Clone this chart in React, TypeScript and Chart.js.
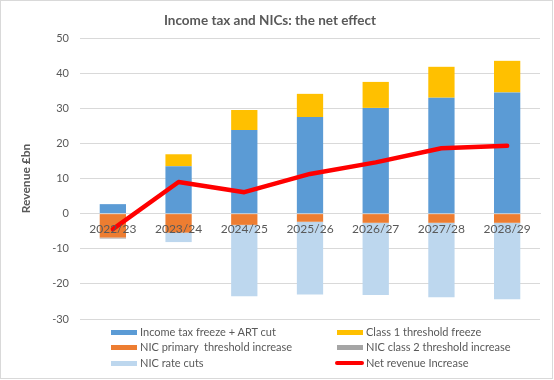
import React, { useEffect, useRef } from "react";
import { Chart, registerables } from "chart.js";

Chart.register(...registerables);

const categories = ["2022/23", "2023/24", "2024/25", "2025/26", "2026/27", "2027/28", "2028/29"];
const incomeTaxFreeze = [2.7, 13.5, 23.8, 27.5, 30.1, 33.0, 34.5];
const class1Freeze = [0, 3.4, 5.7, 6.6, 7.4, 8.8, 9.0];
const nicPrimary = [-6.8, -5.4, -3.2, -2.3, -2.6, -2.6, -2.6];
const nicClass2 = [-0.3, -0.1, -0.1, -0.1, -0.1, -0.1, -0.1];
const nicRateCuts = [0, -2.6, -20.2, -20.6, -20.5, -21.1, -21.7];
const netRevenue = [-4.4, 9.0, 6.1, 11.3, 14.6, 18.6, 19.3];

const seriesNames = [
  "Income tax freeze + ART cut",
  "Class 1 threshold freeze",
  "NIC primary  threshold increase",
  "NIC class 2 threshold increase",
  "NIC rate cuts",
  "Net revenue Increase",
];
const seriesColors = ["#5b9bd5", "#ffc000", "#ed7d31", "#a5a5a5", "#bdd7ee", "#ff0000"];

const FONT = "Lato, 'Liberation Sans', sans-serif";
const TEXT = "#595959";

export default function App() {
  const ref = useRef<HTMLCanvasElement>(null);

  useEffect(() => {
    const barData = [incomeTaxFreeze, class1Freeze, nicPrimary, nicClass2, nicRateCuts];
    const datasets: any[] = barData.map((d, i) => ({
      type: "bar",
      label: seriesNames[i],
      data: d,
      backgroundColor: seriesColors[i],
      borderWidth: 0,
      stack: "bars",
      order: 1,
      barPercentage: 0.4,
      categoryPercentage: 1,
    }));
    datasets.push({
      type: "line",
      label: seriesNames[5],
      data: netRevenue,
      borderColor: seriesColors[5],
      backgroundColor: seriesColors[5],
      borderWidth: 4.5,
      pointRadius: 0,
      tension: 0,
      borderCapStyle: "round",
      borderJoinStyle: "round",
      stack: "net",
      order: 0,
    });

    const chart = new Chart(ref.current!, {
      type: "bar",
      data: { labels: categories, datasets },
      options: {
        responsive: false,
        animation: false,
        layout: { padding: { left: 0, right: 14, top: 0, bottom: 61 } },
        plugins: {
          legend: { display: false },
          tooltip: { enabled: false },
          title: {
            display: true,
            text: "Income tax and NICs: the net effect",
            color: TEXT,
            font: { family: FONT, size: 13.5, weight: "bold" },
            padding: { top: 12.5, bottom: 9.3 },
          },
        },
        scales: {
          x: {
            stacked: true,
            position: { y: 0 } as any,
            grid: { display: false, drawTicks: false },
            border: { color: "#d9d9d9" },
            ticks: { color: TEXT, font: { family: FONT, size: 12 }, padding: 8, z: 1 },
          },
          y: {
            stacked: true,
            min: -30,
            max: 50,
            ticks: { stepSize: 10, color: TEXT, font: { family: FONT, size: 11 }, padding: 11 },
            grid: { color: "#d9d9d9", drawTicks: false },
            border: { display: false },
            title: {
              display: true,
              text: "Revenue £bn",
              color: TEXT,
              font: { family: FONT, size: 12, weight: "bold" },
              padding: { top: 19, bottom: 0 },
            },
            afterFit: (s: any) => {
              s.width = 80;
            },
          },
        },
      } as any,
    });
    return () => chart.destroy();
  }, []);

  const colX = [111, 337];
  const rowY = [332, 347, 363];

  return (
    <div style={{ position: "absolute", left: 0, top: 0, width: 554, height: 380, background: "#fff" }}>
      <canvas ref={ref} width={554} height={380} style={{ position: "absolute", left: 0, top: 0 }} />
      {seriesNames.map((name, i) => {
        const col = i % 2;
        const row = Math.floor(i / 2);
        const isLine = i === 5;
        const x = colX[col];
        const y = rowY[row];
        return (
          <div key={name}>
            <div
              style={{
                position: "absolute",
                left: isLine ? x - 2 : x,
                top: isLine ? y - 2 : y - 2.5,
                width: isLine ? 29 : 26,
                height: isLine ? 4 : 5,
                borderRadius: isLine ? 2 : 0,
                background: seriesColors[i],
              }}
            />
            <div
              style={{
                position: "absolute",
                left: x + 29,
                top: y - 8,
                height: 16,
                lineHeight: "16px",
                fontFamily: FONT,
                fontSize: 11,
                color: TEXT,
                whiteSpace: "pre",
              }}
            >
              {name}
            </div>
          </div>
        );
      })}
      <div
        style={{
          position: "absolute",
          left: 0,
          top: 0,
          width: 551,
          height: 377,
          border: "1px solid #d9d9d9",
          pointerEvents: "none",
        }}
      />
    </div>
  );
}
